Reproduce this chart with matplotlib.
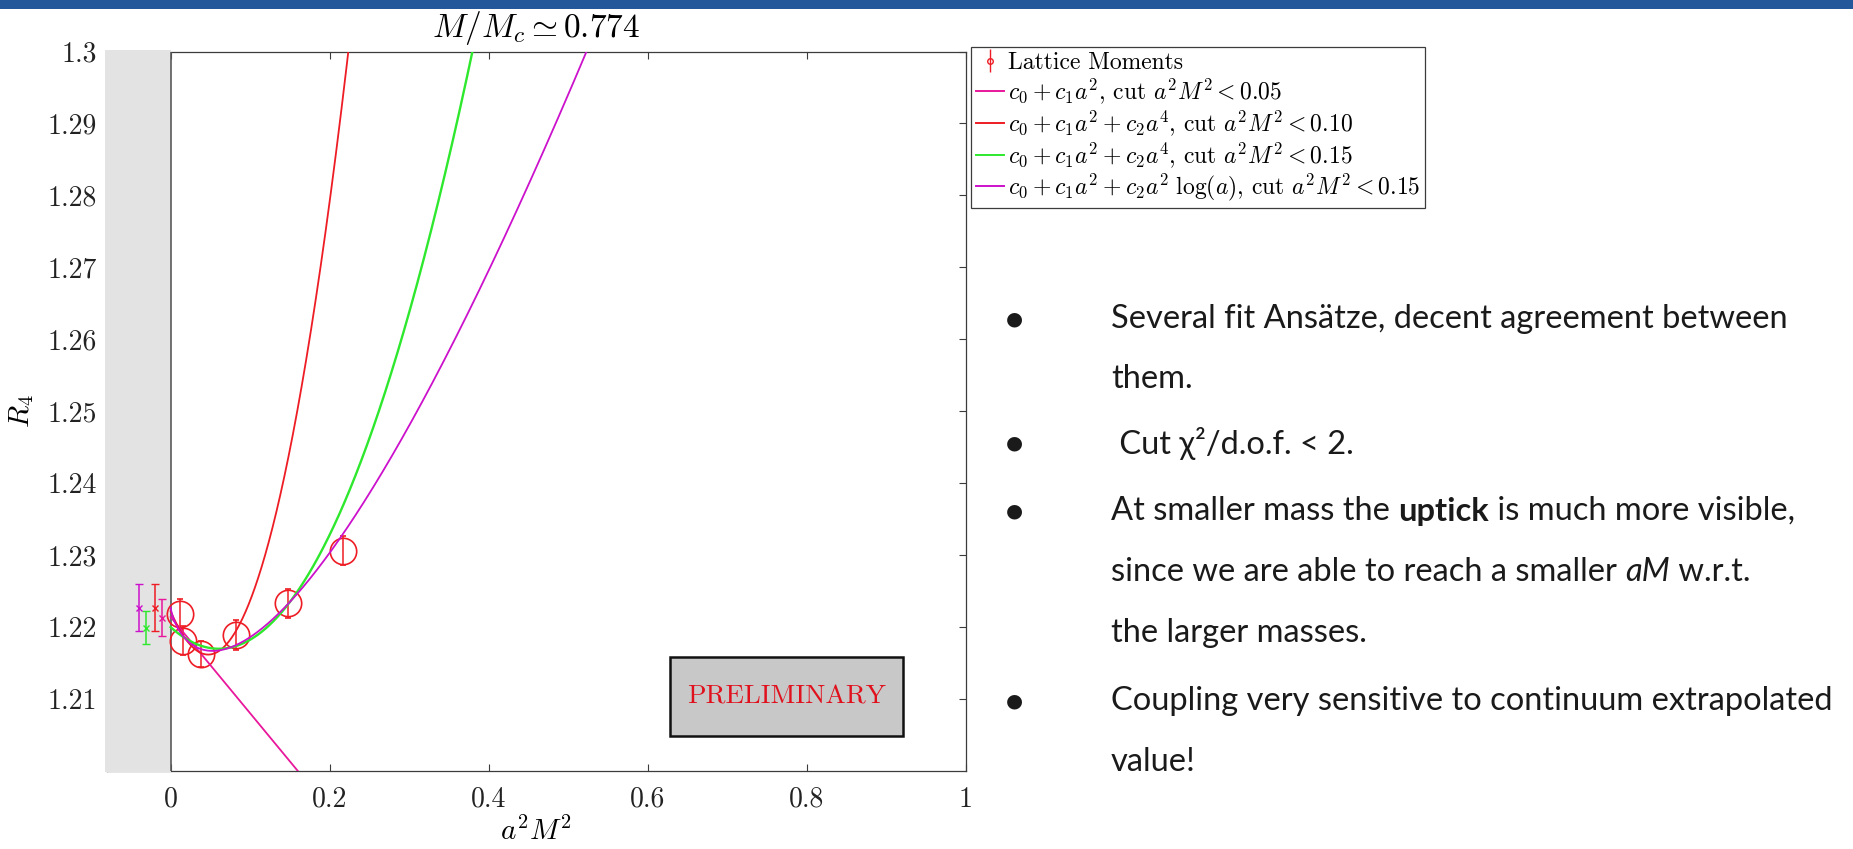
import numpy as np
import matplotlib
matplotlib.use("Agg")
import matplotlib.pyplot as plt
from matplotlib.patches import Rectangle
from matplotlib.lines import Line2D

plt.rcParams["font.family"] = "serif"
plt.rcParams["font.serif"] = ["cmr10"]
plt.rcParams["mathtext.fontset"] = "cm"
plt.rcParams["axes.formatter.use_mathtext"] = True

# ---- data -------------------------------------------------------------
# lattice moments R_4 versus a^2 M^2
x_lat = [0.0122, 0.0155, 0.0380, 0.0826, 0.1476, 0.2167]
y_lat = [1.2218, 1.2181, 1.2163, 1.2189, 1.2233, 1.2306]
e_lat = [0.0021, 0.0020, 0.0018, 0.0021, 0.0020, 0.0020]

# continuum values from each fit (shifted left of zero for visibility)
x_ext = [-0.040, -0.031, -0.020, -0.0105]
y_ext = [1.2227, 1.2199, 1.2227, 1.2213]
e_ext = [0.0033, 0.0023, 0.0033, 0.0026]

# fit coefficients, written in terms of x = a^2 M^2
lin_c = [1.2214, -0.1338]                 # c0 + c1 x
quad10_c = [1.2222, -0.255, 2.70]         # c0 + c1 x + c2 x^2, cut 0.10
quad15_c = [1.2200, -0.0992, 0.817]       # c0 + c1 x + c2 x^2, cut 0.15
log15_c = [1.2227, 0.2218, 0.1141]        # c0 + c1 x + c2 x log x, cut 0.15

x_ticks = [0, 0.2, 0.4, 0.6, 0.8, 1]
x_labels = ["0", "0.2", "0.4", "0.6", "0.8", "1"]
y_ticks = [1.21, 1.22, 1.23, 1.24, 1.25, 1.26, 1.27, 1.28, 1.29, 1.30]
y_labels = ["1.21", "1.22", "1.23", "1.24", "1.25", "1.26", "1.27", "1.28", "1.29", "1.3"]

legend_labels = [
    "Lattice Moments",
    r"$c_0+c_1a^2$, cut $a^2M^2<0.05$",
    r"$c_0+c_1a^2+c_2a^4$, cut $a^2M^2<0.10$",
    r"$c_0+c_1a^2+c_2a^4$, cut $a^2M^2<0.15$",
    r"$c_0+c_1a^2+c_2a^2\ \log(a)$, cut $a^2M^2<0.15$",
]

bullets = [
    [[("Several fit Ansätze, decent agreement between", {})],
     [("them.", {})]],
    [[(" Cut χ²/d.o.f. < 2.", {})]],
    [[("At smaller mass the ", {}), ("uptick", {"weight": "bold"}),
      (" is much more visible,", {})],
     [("since we are able to reach a smaller ", {}), ("aM", {"style": "italic"}),
      (" w.r.t.", {})],
     [("the larger masses.", {})]],
    [[("Coupling very sensitive to continuum extrapolated", {})],
     [("value!", {})]],
]

# ---- colours ----------------------------------------------------------
RED = "#ee1c24"
GREEN = "#2ee82e"
PINK = "#e8179c"
PURPLE = "#cc11cc"
AXC = "#3c3c3c"

W, H = 1853, 849
fig = plt.figure(figsize=(W / 100, H / 100), dpi=100)


def fx(px):
    return px / W


def fy(py):
    return 1 - py / H


# header band
fig.patches.append(Rectangle((0, fy(9)), 1, 9 / H, transform=fig.transFigure,
                             facecolor="#23599a", edgecolor="none"))

ax = fig.add_axes([fx(107), fy(771), fx(966) - fx(107), fy(51.5) - fy(771)])
ax.set_xlim(-0.08, 1)
ax.set_ylim(1.2, 1.3)

for sp in ax.spines.values():
    sp.set_color(AXC)
    sp.set_linewidth(0.9)
ax.set_xticks(x_ticks, labels=x_labels)
ax.set_yticks(y_ticks, labels=y_labels)
ax.tick_params(direction="in", length=5, width=0.8, color=AXC, top=True,
               right=True, labelsize=20, labelcolor="#222222")
ax.tick_params(axis="x", pad=11)
ax.tick_params(axis="y", pad=7)

# shaded continuum region
x0 = (0 - (-0.08)) / 1.08
ax.add_patch(Rectangle((-0.002, -0.002), x0 + 0.002, 1.004, transform=ax.transAxes,
                       facecolor="#e3e3e3", edgecolor="none", zorder=2.6,
                       clip_on=False))
ax.axvline(0, color="#5a5a5a", lw=1.2, zorder=2.7)

# lattice data
ax.errorbar(x_lat, y_lat, yerr=e_lat, fmt="o", mfc="none", mec=RED, ecolor=RED,
            ms=19, mew=1.2, elinewidth=1.1, capsize=2.5, capthick=1.1, zorder=3)

# fit curves
xs = np.linspace(0, 1, 4001)
xlogx = np.where(xs > 0, xs * np.log(np.where(xs > 0, xs, 1)), 0.0)
ax.plot(xs, lin_c[0] + lin_c[1] * xs, color=PINK, lw=1.3, zorder=3.2)
ax.plot(xs, quad10_c[0] + quad10_c[1] * xs + quad10_c[2] * xs ** 2, color=RED,
        lw=1.3, zorder=3.2)
ax.plot(xs, quad15_c[0] + quad15_c[1] * xs + quad15_c[2] * xs ** 2, color=GREEN,
        lw=1.7, zorder=3.2)
ax.plot(xs, log15_c[0] + log15_c[1] * xs + log15_c[2] * xlogx, color=PURPLE,
        lw=1.3, zorder=3.3)

# continuum extrapolations
for xv, yv, ev, c in zip(x_ext, y_ext, e_ext, [PURPLE, GREEN, RED, PINK]):
    ax.errorbar([xv], [yv], yerr=[ev], fmt="x", color=c, ms=4, mew=1.0,
                elinewidth=1.1, capsize=3, capthick=1.1, zorder=3.5)

# PRELIMINARY stamp
ax.add_patch(Rectangle((0.628, 1.2048), 0.293, 0.011, facecolor="#c8c8c8",
                       edgecolor="#111111", lw=1.8, zorder=4))
ax.text(0.628 + 0.293 / 2, 1.2048 + 0.0055, "PRELIMINARY", color="#e0101c",
        fontsize=19.5, ha="center", va="center", zorder=5)

# titles and labels
xc = (fx(107) + fx(966)) / 2
fig.text(xc, fy(37), r"$M/M_c \simeq 0.774$", fontsize=24, ha="center",
         va="baseline")
fig.text(xc, fy(831), r"$a^2M^2$", fontsize=21, ha="center", va="center")
fig.text(fx(22), fy(411), r"$R_4$", fontsize=21, ha="center", va="center",
         rotation=90)

# legend
h0 = ax.errorbar([], [], yerr=[], fmt="o", mfc="none", mec=RED, ecolor=RED, ms=4,
                 mew=1.0, elinewidth=1.0, capsize=2.5)
handles = [h0] + [Line2D([], [], color=c, lw=1.4) for c in [PINK, RED, GREEN, PURPLE]]
leg = fig.legend(handles, legend_labels, loc="upper left",
                 bbox_to_anchor=(fx(971), fy(47)), borderaxespad=0, frameon=True,
                 fancybox=False, edgecolor=AXC, framealpha=1, fontsize=17,
                 handlelength=1.2, handletextpad=0.15, labelspacing=0.1,
                 borderpad=0.2)
leg.get_frame().set_linewidth(0.9)

# bullet list
SANS = ["Lato", "DejaVu Sans"]
renderer = fig.canvas.get_renderer()


def text_width(s, size, kw):
    t1 = fig.text(0, 0, "|" + s + "|", fontsize=size, family=SANS, **kw)
    t2 = fig.text(0, 0, "||", fontsize=size, family=SANS, **kw)
    w = t1.get_window_extent(renderer).width - t2.get_window_extent(renderer).width
    t1.remove()
    t2.remove()
    return w


def put_line(x_px, y_px, parts, size):
    x = x_px
    for s, kw in parts:
        fig.text(fx(x), fy(y_px), s, fontsize=size, family=SANS, ha="left",
                 va="center", color="#1a1a1a", **kw)
        x += text_width(s, size, kw)


line_y = [319, 379, 443, 511, 572, 633, 701, 762]
TXT = 23.5
k = 0
for item in bullets:
    fig.text(fx(1014), fy(line_y[k]), "●", fontsize=14, family=["DejaVu Sans"],
             ha="center", va="center", color="#1a1a1a")
    for parts in item:
        put_line(1111, line_y[k], parts, TXT)
        k += 1

fig.savefig("out.png", dpi=100)
